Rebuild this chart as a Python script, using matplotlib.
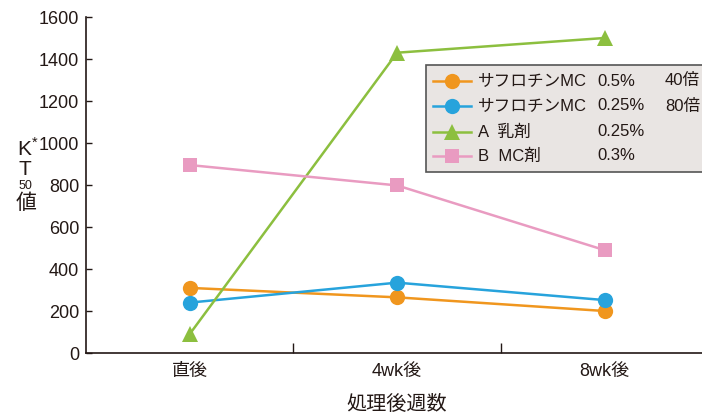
import matplotlib
matplotlib.use("Agg")
import matplotlib.pyplot as plt
from matplotlib.lines import Line2D
from matplotlib.patches import Rectangle

plt.rcParams['font.family'] = ['Liberation Sans', 'Noto Sans CJK JP', 'DejaVu Sans']
plt.rcParams['mathtext.fontset'] = 'custom'
plt.rcParams['mathtext.rm'] = 'Liberation Sans'

categories = ["直後", "4wk後", "8wk後"]
orange_vals = [310, 265, 200]
blue_vals = [240, 335, 252]
green_vals = [90, 1430, 1500]
pink_vals = [895, 798, 490]
legend_col1 = ["サフロチンMC", "サフロチンMC", "A  乳剤", "B  MC剤"]
legend_col2 = ["0.5%", "0.25%", "0.25%", "0.3%"]
legend_col3 = ["40倍", "80倍", "", ""]
yticks = [0, 200, 400, 600, 800, 1000, 1200, 1400, 1600]

colors = ["#f0961e", "#27a3dc", "#8cbf3f", "#e99bc1"]
markers = ["o", "o", "^", "s"]
series = [orange_vals, blue_vals, green_vals, pink_vals]
msizes = [11, 11, 11, 10]
TXT = "#231815"

W, H = 702, 419
fig = plt.figure(figsize=(W/100, H/100), dpi=100)
ax = fig.add_axes([86/W, (H-353)/H, 1-86/W, (353-17)/H])

x = list(range(len(categories)))
handles = []
for vals, c, m, ms in zip(series, colors, markers, msizes):
    h, = ax.plot(x, vals, color=c, marker=m, markersize=ms, linewidth=1.8,
                 markeredgewidth=0, clip_on=False, zorder=3)
    handles.append(h)

ax.set_xlim(-0.5, 2.47)
ax.set_ylim(0, 1600)
ax.set_yticks(yticks)
ax.set_yticklabels([str(v) for v in yticks], fontsize=13, color=TXT)
ax.set_xticks([0.5, 1.5])
ax.set_xticklabels(["", ""])
ax.tick_params(axis='x', length=7, direction='in', color=TXT, width=1)
ax.tick_params(axis='y', length=4, direction='in', color=TXT, width=1, pad=5)
for i, c in enumerate(categories):
    ax.text(i, -90, c, ha='center', va='center', fontsize=13, color=TXT)
ax.text(1.0, -246, "処理後週数", ha='center', va='center', fontsize=14.5, color=TXT)

for s in ['top', 'right']:
    ax.spines[s].set_visible(False)
for s in ['left', 'bottom']:
    ax.spines[s].set_color(TXT)
    ax.spines[s].set_linewidth(1.2)

# y label stacked
fig.text(17/W, 1-156/H, r"K$^{*}$", ha='left', va='baseline', fontsize=15, color=TXT)
fig.text(25/W, 1-169/H, "T", ha='center', va='center', fontsize=15, color=TXT)
fig.text(25/W, 1-186/H, "50", ha='center', va='center', fontsize=9, color=TXT)
fig.text(26/W, 1-203/H, "値", ha='center', va='center', fontsize=15, color=TXT)

# legend box
box = Rectangle((426/W, 1-172/H), (W-426+5)/W, (172-65)/H, transform=fig.transFigure,
                facecolor="#e9e5e3", edgecolor="#555555", linewidth=1.2, zorder=5, clip_on=False)
fig.add_artist(box)
rows_y = [81, 106, 132, 156]
for h, c, m, ms, ry, t1, t2, t3 in zip(handles, colors, markers, msizes, rows_y,
                                       legend_col1, legend_col2, legend_col3):
    ln = Line2D([433/W, 471/W], [1-ry/H, 1-ry/H], transform=fig.transFigure, color=c,
                linewidth=1.8, zorder=6)
    fig.add_artist(ln)
    mk = Line2D([452/W], [1-ry/H], transform=fig.transFigure, color=c, marker=m,
                markersize=ms, markeredgewidth=0, linestyle='none', zorder=7)
    fig.add_artist(mk)
    fig.text(478/W, 1-ry/H, t1, ha='left', va='center', fontsize=12, color=TXT, zorder=8)
    fig.text(597/W, 1-ry/H, t2, ha='left', va='center', fontsize=12, color=TXT, zorder=8)
    if t3:
        fig.text(665/W, 1-ry/H, t3, ha='left', va='center', fontsize=12, color=TXT, zorder=8)

fig.savefig("out.png", dpi=100)
